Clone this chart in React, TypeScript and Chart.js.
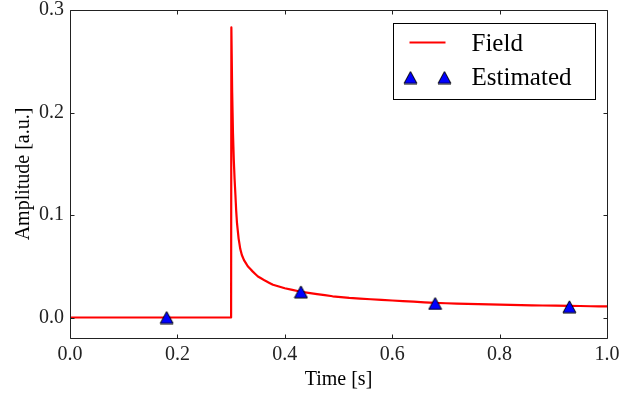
import React, { useEffect, useRef } from "react";
import { Chart, registerables } from "chart.js";

Chart.register(...registerables);

// Field curve
const fieldTime = [0, 0.300, 0.3005, 0.302, 0.3035, 0.305, 0.3065, 0.308, 0.3095, 0.311, 0.314, 0.317, 0.320, 0.324, 0.331, 0.340, 0.350, 0.363, 0.378, 0.400, 0.428, 0.460, 0.489, 0.52, 0.56, 0.60, 0.64, 0.68, 0.72, 0.76, 0.80, 0.84, 0.88, 0.93, 0.97, 1.0];
const fieldAmp = [0, 0, 0.283, 0.220, 0.180, 0.154, 0.135, 0.120, 0.104, 0.092, 0.077, 0.067, 0.061, 0.056, 0.050, 0.045, 0.040, 0.036, 0.032, 0.0285, 0.0254, 0.0228, 0.0207, 0.0192, 0.0178, 0.0166, 0.0155, 0.0142, 0.0136, 0.0130, 0.0125, 0.0121, 0.0117, 0.0114, 0.0110, 0.0108];

// Estimated points
const estTime = [0.18, 0.43, 0.68, 0.93];
const estAmp = [0.0, 0.025, 0.0137, 0.0105];

const xTickValues = [0, 0.2, 0.4, 0.6, 0.8, 1.0];
const yTickValues = [0, 0.1, 0.2, 0.3];

const seriesLabels = ["Field", "Estimated"];
const xTitle = "Time [s]";
const yTitle = "Amplitude [a.u.]";

const FONT = "'Liberation Serif', 'Times New Roman', serif";

function makeTriangle(): HTMLCanvasElement {
  const c = document.createElement("canvas");
  c.width = 15;
  c.height = 14;
  const ctx = c.getContext("2d")!;
  ctx.beginPath();
  ctx.moveTo(7.5, 1);
  ctx.lineTo(1, 13);
  ctx.lineTo(14, 13);
  ctx.closePath();
  ctx.fillStyle = "#0000ff";
  ctx.fill();
  ctx.lineWidth = 1;
  ctx.strokeStyle = "#000000";
  ctx.stroke();
  return c;
}

export default function App() {
  const ref = useRef<HTMLCanvasElement | null>(null);

  useEffect(() => {
    if (!ref.current) return;
    const tri = makeTriangle();

    const framePlugin = {
      id: "frame",
      afterDatasetsDraw(chart: any) {
        const { ctx, chartArea } = chart;
        const { left, right, top, bottom } = chartArea;
        const xs = chart.scales.x;
        const ys = chart.scales.y;
        ctx.save();
        ctx.strokeStyle = "#222";
        ctx.lineWidth = 1;
        const L = Math.round(left) + 0.5;
        const R = Math.round(right) + 0.5;
        const T = Math.round(top) + 0.5;
        const B = Math.round(bottom) + 0.5;
        ctx.beginPath();
        ctx.rect(L, T, R - L, B - T);
        ctx.stroke();
        const tl = 4;
        ctx.beginPath();
        for (const v of xTickValues) {
          const px = Math.round(xs.getPixelForValue(v)) + 0.5;
          ctx.moveTo(px, B);
          ctx.lineTo(px, B - tl);
          ctx.moveTo(px, T);
          ctx.lineTo(px, T + tl);
        }
        for (const v of yTickValues) {
          const py = Math.round(ys.getPixelForValue(v)) + 0.5;
          ctx.moveTo(L, py);
          ctx.lineTo(L + tl, py);
          ctx.moveTo(R, py);
          ctx.lineTo(R - tl, py);
        }
        ctx.stroke();

        // legend
        const bw = 202;
        const bh = 76;
        const bx = Math.round(right - 12 - bw) + 0.5;
        const by = Math.round(top + 12.5) + 0.5;
        ctx.fillStyle = "#fff";
        ctx.fillRect(bx, by, bw, bh);
        ctx.strokeStyle = "#000";
        ctx.lineWidth = 1;
        ctx.strokeRect(bx, by, bw, bh);
        ctx.strokeStyle = "#ff0000";
        ctx.lineWidth = 2;
        ctx.beginPath();
        ctx.moveTo(bx + 16, by + 19);
        ctx.lineTo(bx + 52, by + 19);
        ctx.stroke();
        ctx.drawImage(tri, bx + 17 - 7.5, by + 54 - 7);
        ctx.drawImage(tri, bx + 51 - 7.5, by + 54 - 7);
        ctx.fillStyle = "#000";
        ctx.font = `25px ${FONT}`;
        ctx.textBaseline = "alphabetic";
        ctx.textAlign = "left";
        ctx.fillText(seriesLabels[0], bx + 78, by + 27.5);
        ctx.fillText(seriesLabels[1], bx + 78, by + 61);
        ctx.restore();
      },
    };

    const chart = new Chart(ref.current, {
      type: "line",
      data: {
        datasets: [
          {
            label: seriesLabels[1],
            data: estTime.map((t, i) => ({ x: t, y: estAmp[i] })),
            showLine: false,
            pointStyle: tri as any,
            pointRadius: 7,
            pointHoverRadius: 7,
            order: 0,
          },
          {
            label: seriesLabels[0],
            data: fieldTime.map((t, i) => ({ x: t, y: fieldAmp[i] })),
            borderColor: "#ff0000",
            borderWidth: 2.2,
            borderJoinStyle: "round",
            borderCapStyle: "butt",
            pointRadius: 0,
            tension: 0.0001,
            fill: false,
            order: 1,
          },
        ],
      },
      options: {
        animation: false,
        responsive: false,
        devicePixelRatio: 1,
        layout: { padding: { left: 0, right: 34, top: 10, bottom: 0 } },
        plugins: {
          legend: { display: false },
          tooltip: { enabled: false },
        },
        scales: {
          x: {
            type: "linear",
            min: 0,
            max: 1,
            afterBuildTicks: (s: any) => {
              s.ticks = xTickValues.map((v) => ({ value: v }));
            },
            afterFit: (s: any) => {
              s.height = 55;
              s.paddingLeft = 0;
              s.paddingRight = 0;
            },
            grid: { display: false, drawTicks: false },
            border: { display: false },
            ticks: {
              callback: (v: any) => Number(v).toFixed(1),
              font: { family: FONT, size: 20 },
              color: "#222",
              padding: 5,
              maxRotation: 0,
              autoSkip: false,
            },
            title: {
              display: true,
              text: xTitle,
              font: { family: FONT, size: 20 },
              color: "#000",
              padding: { top: 0, bottom: 1 },
            },
          },
          y: {
            type: "linear",
            min: -0.02,
            max: 0.3,
            afterBuildTicks: (s: any) => {
              s.ticks = yTickValues.map((v) => ({ value: v }));
            },
            afterFit: (s: any) => {
              s.width = 70;
              s.paddingTop = 0;
              s.paddingBottom = 0;
            },
            grid: { display: false, drawTicks: false },
            border: { display: false },
            ticks: {
              callback: (v: any) => Number(v).toFixed(1),
              font: { family: FONT, size: 20 },
              color: "#222",
              padding: 6,
              autoSkip: false,
            },
            title: {
              display: true,
              text: yTitle,
              font: { family: FONT, size: 20 },
              color: "#000",
              padding: { top: 12, bottom: 0 },
            },
          },
        },
      },
      plugins: [framePlugin],
    } as any);

    return () => chart.destroy();
  }, []);

  return (
    <div style={{ position: "fixed", left: 0, top: 0, width: 641, height: 393, background: "#fff" }}>
      <canvas ref={ref} width={641} height={393} style={{ width: 641, height: 393, display: "block" }} />
    </div>
  );
}
